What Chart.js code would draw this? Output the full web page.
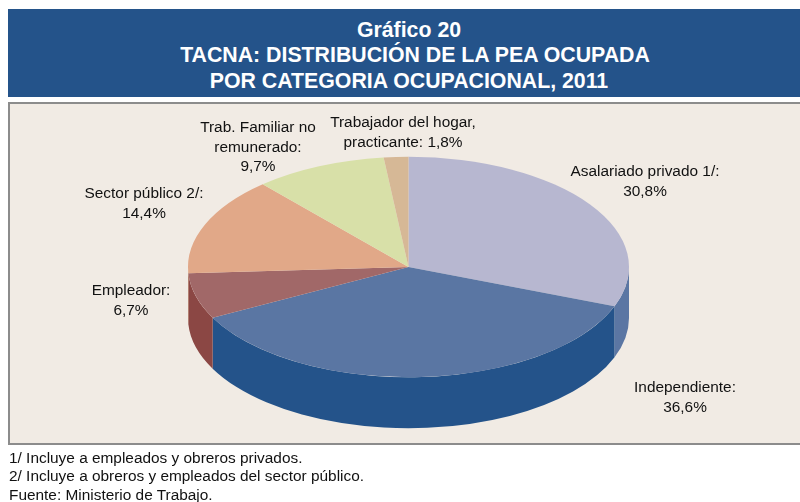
<!DOCTYPE html>
<html><head><meta charset="utf-8">
<script src="https://cdn.jsdelivr.net/npm/chart.js@4"></script>
<style>
html,body{margin:0;padding:0;background:#fff;width:800px;height:502px;overflow:hidden;font-family:"Liberation Sans",Arial,sans-serif}
#band{position:absolute;left:8px;top:9px;width:792px;height:88px;background:#24538a;color:#fff;font-weight:bold;font-size:21.3px;line-height:25.5px;text-align:center;box-sizing:border-box;padding-top:8.5px;padding-left:22px}
#band span{position:relative;left:-6px}
#panel{position:absolute;left:8px;top:102px;width:792px;height:343px;background:#f1ebe4;border:solid #8c8c8c;border-width:2px 0 2px 2px;box-sizing:border-box}
#cv{position:absolute;left:0;top:0}
#notes{position:absolute;left:9px;top:449px;font-size:15.4px;line-height:18.3px;color:#111;white-space:nowrap}
</style></head><body>
<div id="band"><span>Gráfico 20</span><br>TACNA: DISTRIBUCIÓN DE LA PEA OCUPADA<br><span>POR CATEGORIA OCUPACIONAL, 2011</span></div>
<div id="panel"></div>
<canvas id="cv" width="800" height="502"></canvas>
<div id="notes">1/ Incluye a empleados y obreros privados.<br>2/ Incluye a obreros y empleados del sector público.<br>Fuente: Ministerio de Trabajo.</div>
<script>
const categories = ["Asalariado privado 1/:", "Independiente:", "Empleador:", "Sector público 2/:", "Trab. Familiar no remunerado:", "Trabajador del hogar, practicante:"];
const values = [30.8, 36.6, 6.7, 14.4, 9.7, 1.8];
const topColors = ["#b7b7d0", "#5a76a3", "#a16868", "#e1a888", "#d8e0a8", "#d6b896"];
const sideColors = ["#5b76a3", "#24538a", "#8b4744", "#b97f5f", "#a8b080", "#a88a68"];
const labelLines = [
  ["Asalariado privado 1/:", "30,8%"],
  ["Independiente:", "36,6%"],
  ["Empleador:", "6,7%"],
  ["Sector público 2/:", "14,4%"],
  ["Trab. Familiar no", "remunerado:", "9,7%"],
  ["Trabajador del hogar,", "practicante: 1,8%"]
];
const labelAnchors = [[645,172],[685,388],[131,291],[144,194],[258,128],[403,123]];

const SQUASH = 0.5, DEPTH = 51, LINE_GAP = 19.5;
const pie3d = {
  id: "pie3d",
  beforeDatasetsDraw(chart) {
    const ctx = chart.ctx, arcs = chart.getDatasetMeta(0).data;
    arcs.forEach((arc, i) => {
      const a = Math.max(arc.startAngle, 0), b = Math.min(arc.endAngle, Math.PI);
      if (b <= a) return;
      ctx.save();
      ctx.fillStyle = sideColors[i];
      ctx.beginPath();
      ctx.ellipse(arc.x, arc.y, arc.outerRadius, arc.outerRadius * SQUASH, 0, a, b);
      ctx.ellipse(arc.x, arc.y + DEPTH, arc.outerRadius, arc.outerRadius * SQUASH, 0, b, a, true);
      ctx.closePath();
      ctx.fill();
      ctx.restore();
    });
    const a0 = arcs[0];
    ctx.save();
    ctx.translate(a0.x, a0.y);
    ctx.scale(1, SQUASH);
    ctx.translate(-a0.x, -a0.y);
  },
  afterDatasetsDraw(chart) {
    const ctx = chart.ctx;
    ctx.restore();
    ctx.save();
    ctx.font = '15.4px "Liberation Sans", Arial, sans-serif';
    ctx.fillStyle = "#111";
    ctx.textAlign = "center";
    ctx.textBaseline = "middle";
    labelLines.forEach((lines, i) => {
      lines.forEach((t, j) => ctx.fillText(t, labelAnchors[i][0], labelAnchors[i][1] + j * LINE_GAP));
    });
    ctx.restore();
  }
};

new Chart(document.getElementById("cv"), {
  type: "pie",
  data: { labels: categories, datasets: [{ data: values, backgroundColor: topColors, borderWidth: 0 }] },
  options: {
    responsive: false,
    animation: false,
    radius: 220.5,
    rotation: 0,
    layout: { padding: { left: 183.5, right: 166.5, top: 42, bottom: 10 } },
    plugins: { legend: { display: false }, tooltip: { enabled: false }, title: { display: false } }
  },
  plugins: [pie3d]
});
</script>
</body></html>
